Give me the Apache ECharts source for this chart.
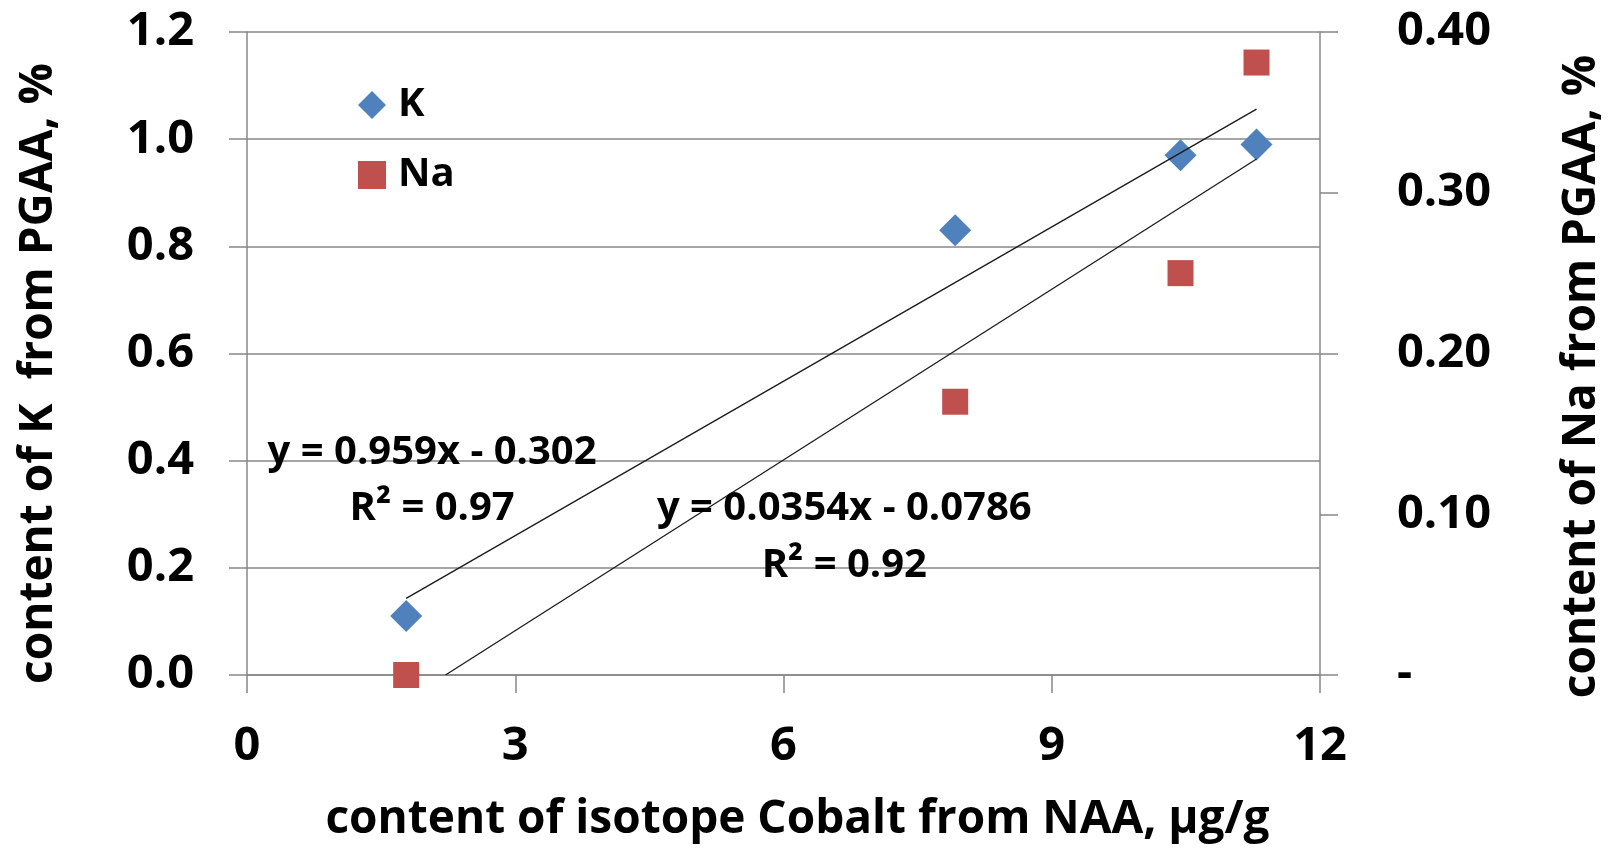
<!DOCTYPE html>
<html>
<head>
<meta charset="utf-8">
<script src="https://cdn.jsdelivr.net/npm/echarts@6/dist/echarts.min.js"></script>
<style>
  html, body { margin: 0; padding: 0; background: #fff; }
  #chart { width: 1613px; height: 848px; }
</style>
</head>
<body>
<div id="chart"></div>
<script>
// cobalt content (NAA), ug/g
const cobalt = [1.78, 7.92, 10.44, 11.29];
// K content (PGAA), %  -> left axis
const kValues = [0.11, 0.83, 0.97, 0.99];
// Na content (PGAA), % -> right axis
const naValues = [0.0, 0.17, 0.25, 0.381];
// trend line ends
const kTrend = [[1.78, 0.143], [11.29, 1.056]];
const naTrend = [[2.22, 0.0], [11.29, 0.321]];
const xTicks = [0, 3, 6, 9, 12];
const kTicks = [0, 0.2, 0.4, 0.6, 0.8, 1.0, 1.2];
const naTicks = [0, 0.1, 0.2, 0.3, 0.4];

const FONT = "'Open Sans', 'DejaVu Sans', sans-serif";
const GRAY = "#878787";

const chart = echarts.init(document.getElementById("chart"));

const axisCommon = {
  axisLine: { show: true, lineStyle: { color: GRAY, width: 1.5 } },
  axisTick: { show: true, inside: false, length: 18, lineStyle: { color: GRAY, width: 1.5 } },
  nameLocation: "middle",
};
const labelStyle = { fontFamily: FONT, fontSize: 47, fontWeight: "bold", color: "#000" };
const nameStyle = { fontFamily: FONT, fontSize: 46, fontWeight: "bold", color: "#000" };

chart.setOption({
  animation: false,
  backgroundColor: "#fff",
  textStyle: { fontFamily: FONT },
  grid: { left: 247, right: 293, top: 32, bottom: 171, containLabel: false },
  legend: {
    data: ["K", "Na"],
    orient: "vertical",
    left: 353,
    top: 80,
    itemWidth: 28,
    itemHeight: 28,
    itemGap: 30,
    textStyle: { fontFamily: FONT, fontSize: 40, fontWeight: "bold", color: "#000", padding: [0, 0, 0, 7] },
  },
  xAxis: {
    ...axisCommon,
    type: "value",
    min: xTicks[0],
    max: xTicks[xTicks.length - 1],
    interval: 3,
    splitLine: { show: false },
    axisLabel: { ...labelStyle, margin: 48 },
    name: "content of isotope Cobalt from NAA, \u03bcg/g",
    nameGap: 122,
    nameTextStyle: { ...nameStyle, padding: [0, 0, 0, 28] },
  },
  yAxis: [
    {
      ...axisCommon,
      type: "value",
      position: "left",
      min: kTicks[0],
      max: kTicks[kTicks.length - 1],
      interval: 0.2,
      splitLine: { show: true, lineStyle: { color: GRAY, width: 1.5 } },
      axisLabel: { ...labelStyle, margin: 53, formatter: (v) => v.toFixed(1) },
      name: "content of K  from PGAA, %",
      nameRotate: 90,
      nameGap: 185,
      nameTextStyle: { ...nameStyle, padding: [0, 40, 0, 0] },
    },
    {
      ...axisCommon,
      type: "value",
      position: "right",
      min: naTicks[0],
      max: naTicks[naTicks.length - 1],
      interval: 0.1,
      splitLine: { show: false },
      axisLabel: {
        ...labelStyle, margin: 77, align: "left",
        formatter: (v) => (v === 0 ? "-" : v.toFixed(2)),
      },
      name: "content of Na from PGAA, %",
      nameRotate: 90,
      nameGap: 239,
      nameTextStyle: { ...nameStyle, padding: [0, 46, 0, 0] },
    },
  ],
  series: [
    {
      name: "K",
      type: "scatter",
      yAxisIndex: 0,
      symbol: "diamond",
      symbolSize: 32,
      itemStyle: { color: "#4F81BD", opacity: 1 },
      data: cobalt.map((x, i) => [x, kValues[i]]),
      z: 3,
    },
    {
      name: "Na",
      type: "scatter",
      yAxisIndex: 1,
      symbol: "rect",
      symbolSize: 26,
      itemStyle: { color: "#C0504D", opacity: 1 },
      data: cobalt.map((x, i) => [x, naValues[i]]),
      z: 3,
    },
    {
      name: "K trend",
      type: "line",
      yAxisIndex: 0,
      showSymbol: false,
      lineStyle: { color: "#1a1a1a", width: 1.3 },
      data: kTrend,
      z: 4,
    },
    {
      name: "Na trend",
      type: "line",
      yAxisIndex: 1,
      showSymbol: false,
      lineStyle: { color: "#1a1a1a", width: 1.3 },
      data: naTrend,
      z: 4,
    },
  ],
});

// equation labels anchored in data coordinates of the left axis
const labels = [
  { text: "y = 0.959x - 0.302", at: [2.07, 0.415] },
  { text: "R\u00b2 = 0.97", at: [2.07, 0.311] },
  { text: "y = 0.0354x - 0.0786", at: [6.68, 0.31] },
  { text: "R\u00b2 = 0.92", at: [6.68, 0.205] },
];
chart.setOption({
  graphic: labels.map((l) => {
    const p = chart.convertToPixel({ xAxisIndex: 0, yAxisIndex: 0 }, l.at);
    return {
      type: "text",
      x: p[0],
      y: p[1],
      z: 10,
      style: {
        text: l.text,
        fontFamily: FONT,
        fontSize: 40,
        fontWeight: "bold",
        fill: "#000",
        align: "center",
        verticalAlign: "middle",
      },
    };
  }),
});
</script>
</body>
</html>
